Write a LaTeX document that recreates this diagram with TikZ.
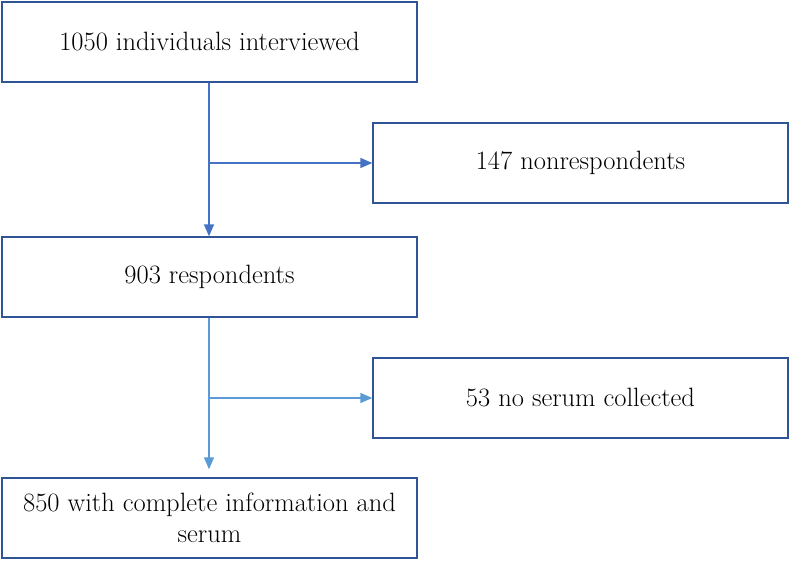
\documentclass[tikz,border=0pt]{standalone}
\usepackage{fontspec}
\usetikzlibrary{arrows.meta}
\definecolor{boxblue}{RGB}{47,85,151}
\definecolor{arrblue}{RGB}{68,114,196}
\definecolor{arrlight}{RGB}{91,155,213}
\tikzset{
    box/.style={draw=boxblue, line width=1.4pt, minimum width=415pt, minimum height=80pt,
        inner sep=0pt, align=center, font=\fontsize{26.5}{31}\selectfont},
    flow/.style={->, line width=1.5pt}
}
\begin{document}
\begin{tikzpicture}[x=1pt, y=-1pt, >={Triangle[length=12pt,width=10pt]}]
\useasboundingbox (0,0) rectangle (790,561);

\node[box](interviewed) at (209.5,42) {1050 individuals interviewed};
\node[box](nonresp) at (580.5,163) {147 nonrespondents};
\node[box](respondents) at (209.5,277) {903 respondents};
\node[box](noserum) at (580.5,398) {53 no serum collected};
\node[box](complete) at (209.5,518) {850 with complete information and\\serum};

% arrow stops short of the last box
\coordinate (gap) at ([yshift=8pt]complete.north);

\draw[flow, arrblue]([xshift=-.5pt]interviewed.south) -- ([xshift=-.5pt]respondents.north);
\draw[flow, arrblue]([xshift=-.5pt]interviewed.south |- nonresp.west) -- (nonresp.west);

\draw[flow, arrlight]([xshift=-.5pt]respondents.south) -- ([xshift=-.5pt]gap);
\draw[flow, arrlight]([xshift=-.5pt]respondents.south |- noserum.west) -- (noserum.west);

\end{tikzpicture}
\end{document}
